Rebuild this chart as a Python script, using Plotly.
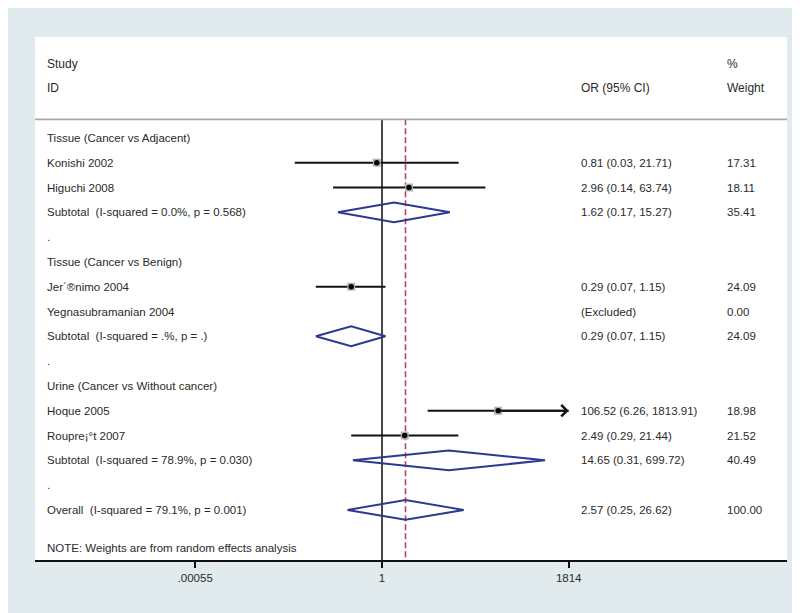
import math
import plotly.graph_objects as go

# ---------------- data ----------------
row_labels = [
    "Tissue (Cancer vs Adjacent)",
    "Konishi 2002",
    "Higuchi 2008",
    "Subtotal  (I-squared = 0.0%, p = 0.568)",
    ".",
    "Tissue (Cancer vs Benign)",
    "Jer´®nimo 2004",
    "Yegnasubramanian 2004",
    "Subtotal  (I-squared = .%, p = .)",
    ".",
    "Urine (Cancer vs Without cancer)",
    "Hoque 2005",
    "Roupre¡°t 2007",
    "Subtotal  (I-squared = 78.9%, p = 0.030)",
    ".",
    "Overall  (I-squared = 79.1%, p = 0.001)",
]

study_rows = [1, 2, 6, 11, 12]
study_or = [0.81, 2.96, 0.29, 106.52, 2.49]
study_lo = [0.03, 0.14, 0.07, 6.26, 0.29]
study_hi = [21.71, 63.74, 1.15, 1813.91, 21.44]
study_wt = [17.31, 18.11, 24.09, 18.98, 21.52]

excluded_rows = [7]
excluded_wt = [0.00]

sum_rows = [3, 8, 13, 15]
sum_or = [1.62, 0.29, 14.65, 2.57]
sum_lo = [0.17, 0.07, 0.31, 0.25]
sum_hi = [15.27, 1.15, 699.72, 26.62]
sum_wt = [35.41, 24.09, 40.49, 100.00]

overall_or = 2.57

tick_vals = [0.00055, 1, 1814]
tick_text = [".00055", "1", "1814"]

# ---------------- style ----------------
BG = "#e1ebee"
TXT = "#2a2a2a"
NAVY = "#2b3a8f"
FONT = "Arial, Liberation Sans, sans-serif"
ROW_FS = 11.5
HDR_FS = 12
X_RANGE = [-6.056, 7.068]          # log10 range of the plot panel
Y_RANGE = [17.02, -4.07]           # row index, reversed
SEP_ROW = -0.75
DIAMOND_H = 0.4

fig = go.Figure()

# reference line at OR = 1 and overall dashed line
fig.add_trace(go.Scatter(x=[1, 1], y=[SEP_ROW, Y_RANGE[0]], mode="lines",
                         line=dict(color="#1a1a1a", width=1.6),
                         hoverinfo="skip", showlegend=False))
fig.add_trace(go.Scatter(x=[overall_or, overall_or], y=[SEP_ROW, Y_RANGE[0]], mode="lines",
                         line=dict(color="#b04a55", width=1.6, dash="6px,3px"),
                         hoverinfo="skip", showlegend=False))

# confidence interval lines
ci_x, ci_y = [], []
for r, lo, hi in zip(study_rows, study_lo, study_hi):
    ci_x += [lo, hi, None]
    ci_y += [r, r, None]
fig.add_trace(go.Scatter(x=ci_x, y=ci_y, mode="lines",
                         line=dict(color="#111111", width=2),
                         hoverinfo="skip", showlegend=False))

# weight boxes and point estimates
fig.add_trace(go.Scatter(x=study_or, y=study_rows, mode="markers",
                         marker=dict(symbol="square", size=8, color="#b4b4b4"),
                         hoverinfo="skip", showlegend=False))
fig.add_trace(go.Scatter(x=study_or, y=study_rows, mode="markers",
                         marker=dict(symbol="circle", size=5.5, color="#000000"),
                         hoverinfo="skip", showlegend=False))

# diamonds
for r, es, lo, hi in zip(sum_rows, sum_or, sum_lo, sum_hi):
    fig.add_trace(go.Scatter(
        x=[lo, es, hi, es, lo],
        y=[r, r - DIAMOND_H, r, r + DIAMOND_H, r],
        mode="lines", line=dict(color=NAVY, width=2),
        hoverinfo="skip", showlegend=False))

# arrows for CIs reaching the axis limit
for r, es, hi in zip(study_rows, study_or, study_hi):
    if hi >= tick_vals[-1] * 0.999:
        fig.add_annotation(x=math.log10(hi), y=r, ax=math.log10(es), ay=r,
                           xref="x", yref="y", axref="x", ayref="y",
                           text="", showarrow=True, arrowhead=4, arrowsize=1.1,
                           arrowwidth=2, arrowcolor="#111111", standoff=0)

# ---------------- text columns ----------------
COL_LABEL = 0.0133
COL_OR = 0.7234
COL_WT = 0.9176

def txt(x, y, s, size=ROW_FS):
    fig.add_annotation(x=x, y=y, xref="paper", yref="y", text=s, showarrow=False,
                       xanchor="left", yanchor="middle",
                       font=dict(family=FONT, size=size, color=TXT))

# headers
txt(COL_LABEL, -3, "Study", HDR_FS)
txt(COL_LABEL, -2, "ID", HDR_FS)
txt(COL_OR, -2, "OR (95% CI)", HDR_FS)
txt(COL_WT, -3, "%", HDR_FS)
txt(COL_WT, -2, "Weight", HDR_FS)

for i, lab in enumerate(row_labels):
    txt(COL_LABEL, i, lab)

for r, es, lo, hi, w in zip(study_rows, study_or, study_lo, study_hi, study_wt):
    txt(COL_OR, r, f"{es:.2f} ({lo:.2f}, {hi:.2f})")
    txt(COL_WT, r, f"{w:.2f}")
for r, w in zip(excluded_rows, excluded_wt):
    txt(COL_OR, r, "(Excluded)")
    txt(COL_WT, r, f"{w:.2f}")
for r, es, lo, hi, w in zip(sum_rows, sum_or, sum_lo, sum_hi, sum_wt):
    txt(COL_OR, r, f"{es:.2f} ({lo:.2f}, {hi:.2f})")
    txt(COL_WT, r, f"{w:.2f}")

txt(COL_LABEL, 16.53, "NOTE: Weights are from random effects analysis")

# separator under header
fig.add_shape(type="line", xref="paper", yref="y", x0=0, x1=1, y0=SEP_ROW, y1=SEP_ROW,
              line=dict(color="#a8a8a8", width=1.8))

fig.update_layout(
    width=800, height=613,
    margin=dict(l=27, r=21, t=29, b=61),
    paper_bgcolor=BG, plot_bgcolor="white",
    font=dict(family=FONT, color=TXT),
    xaxis=dict(type="log", range=X_RANGE, tickvals=tick_vals, ticktext=tick_text,
               showline=True, linecolor="#111111", linewidth=2,
               ticks="outside", ticklen=6, tickwidth=1.5, tickcolor="#111111",
               showgrid=False, zeroline=False,
               tickfont=dict(family=FONT, size=11.5, color=TXT)),
    yaxis=dict(range=Y_RANGE, visible=False, showgrid=False, zeroline=False),
    showlegend=False,
)

fig.write_html("out.html")
